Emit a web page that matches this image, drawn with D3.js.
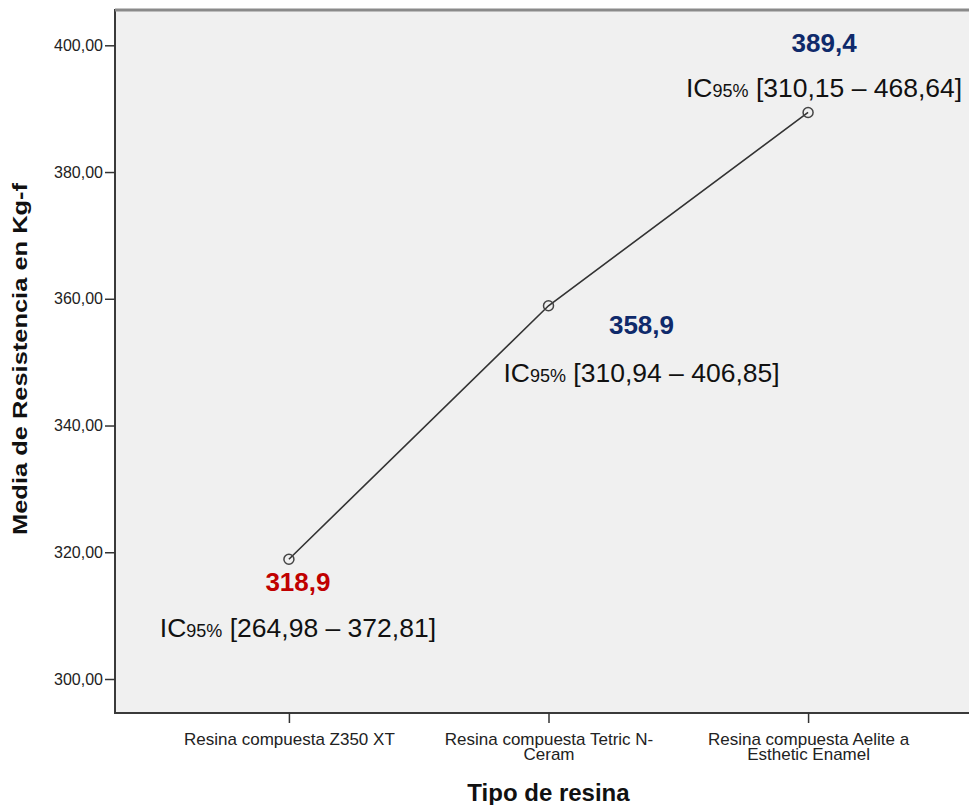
<!DOCTYPE html>
<html>
<head>
<meta charset="utf-8">
<script src="https://cdn.jsdelivr.net/npm/d3@7"></script>
<style>
  body { margin: 0; background: #fff; }
  text { font-family: "Liberation Sans", Arial, sans-serif; }
</style>
</head>
<body>
<div class="chart"></div>
<script>
const categories = ["Resina compuesta Z350 XT", "Resina compuesta Tetric N-Ceram", "Resina compuesta Aelite a Esthetic Enamel"]
const tickLines = [["Resina compuesta Z350 XT"], ["Resina compuesta Tetric N-", "Ceram"], ["Resina compuesta Aelite a", "Esthetic Enamel"]]
const means = [318.9, 358.9, 389.4]
const ciLow = ["264,98", "310,94", "310,15"]
const ciHigh = ["372,81", "406,85", "468,64"]
const yTicks = [300, 320, 340, 360, 380, 400]
const labelColors = ["#c00000", "#0f2a6b", "#0f2a6b"]

// label offsets from each point (layout, not data)
const labelOffsets = [
    { dx: 9, dyVal: 32, dyIc: 78 },
    { dx: 93, dyVal: 28, dyIc: 76 },
    { dx: 16, dyVal: -60, dyIc: -15 }
]

const width = 969
const height = 805
const plot = { left: 115, top: 10, right: 982, bottom: 713 }

const svg = d3.select(".chart")
    .append("svg")
    .attr("width", width)
    .attr("height", height)

const x = d3.scalePoint()
    .domain(categories)
    .range([plot.left, plot.right])
    .padding(0.67)

const y = d3.scaleLinear()
    .domain([300, 400])
    .range([679, 45.3])

// plot frame
svg.append("rect")
    .attr("x", plot.left)
    .attr("y", plot.top)
    .attr("width", plot.right - plot.left)
    .attr("height", plot.bottom - plot.top)
    .attr("fill", "#f0f0f0")
    .attr("stroke", "#3a3a3a")
    .attr("stroke-width", 2)

svg.append("line")
    .attr("x1", plot.left).attr("x2", plot.right)
    .attr("y1", plot.top).attr("y2", plot.top)
    .attr("stroke", "#8a8a8a").attr("stroke-width", 3)

// y axis
const yAxis = svg.append("g")
    .attr("transform", `translate(${plot.left},0)`)
    .call(d3.axisLeft(y).tickValues(yTicks).tickSize(10).tickPadding(2)
        .tickFormat(d => d3.format(".2f")(d).replace(".", ",")))
yAxis.select(".domain").remove()
yAxis.selectAll("line").attr("stroke", "#333").attr("stroke-width", 1.5)
yAxis.selectAll("text").attr("font-size", 16).attr("fill", "#222")
    .attr("font-family", "Liberation Sans, Arial, sans-serif")

// x axis
const xAxis = svg.append("g")
    .attr("transform", `translate(0,${plot.bottom})`)
    .call(d3.axisBottom(x).tickSize(10).tickFormat(""))
xAxis.select(".domain").remove()
xAxis.selectAll("line").attr("stroke", "#333").attr("stroke-width", 1.5)

xAxis.selectAll(".tick").each(function(d, i) {
    const t = d3.select(this).append("text")
        .attr("fill", "#222")
        .attr("font-size", 17)
        .attr("text-anchor", "middle")
        .attr("font-family", "Liberation Sans, Arial, sans-serif")
    tickLines[i].forEach((line, j) => {
        t.append("tspan").attr("x", 0).attr("y", 32 + j * 15).text(line)
    })
})

// axis titles
svg.append("text")
    .attr("transform", `translate(27,${359}) rotate(-90)`)
    .attr("text-anchor", "middle")
    .attr("font-size", 20)
    .attr("font-weight", "bold")
    .attr("fill", "#111")
    .attr("textLength", 352)
    .attr("lengthAdjust", "spacingAndGlyphs")
    .text("Media de Resistencia en Kg-f")

svg.append("text")
    .attr("x", x(categories[1]))
    .attr("y", 801)
    .attr("text-anchor", "middle")
    .attr("font-size", 24)
    .attr("font-weight", "bold")
    .attr("fill", "#111")
    .text("Tipo de resina")

// line
const data = categories.map((c, i) => ({ cat: c, mean: means[i], lo: ciLow[i], hi: ciHigh[i], i: i }))

svg.append("path")
    .datum(data)
    .attr("fill", "none")
    .attr("stroke", "#333")
    .attr("stroke-width", 1.6)
    .attr("d", d3.line().x(d => x(d.cat)).y(d => y(d.mean)))

svg.append("g")
    .selectAll("circle")
    .data(data)
    .join("circle")
    .attr("cx", d => x(d.cat))
    .attr("cy", d => y(d.mean))
    .attr("r", 5)
    .attr("fill", "none")
    .attr("stroke", "#444")
    .attr("stroke-width", 1.5)

// value labels
svg.append("g")
    .selectAll("text")
    .data(data)
    .join("text")
    .attr("x", d => x(d.cat) + labelOffsets[d.i].dx)
    .attr("y", d => y(d.mean) + labelOffsets[d.i].dyVal)
    .attr("text-anchor", "middle")
    .attr("font-size", 26)
    .attr("font-weight", "bold")
    .attr("fill", d => labelColors[d.i])
    .text(d => String(d.mean).replace(".", ","))

const ic = svg.append("g")
    .selectAll("text")
    .data(data)
    .join("text")
    .attr("x", d => x(d.cat) + labelOffsets[d.i].dx)
    .attr("y", d => y(d.mean) + labelOffsets[d.i].dyIc)
    .attr("text-anchor", "middle")
    .attr("font-size", 26.5)
    .attr("fill", "#111")

ic.append("tspan").text("IC")
ic.append("tspan").attr("font-size", 18).text("95%")
ic.append("tspan").text(d => ` [${d.lo} – ${d.hi}]`)
</script>
</body>
</html>
